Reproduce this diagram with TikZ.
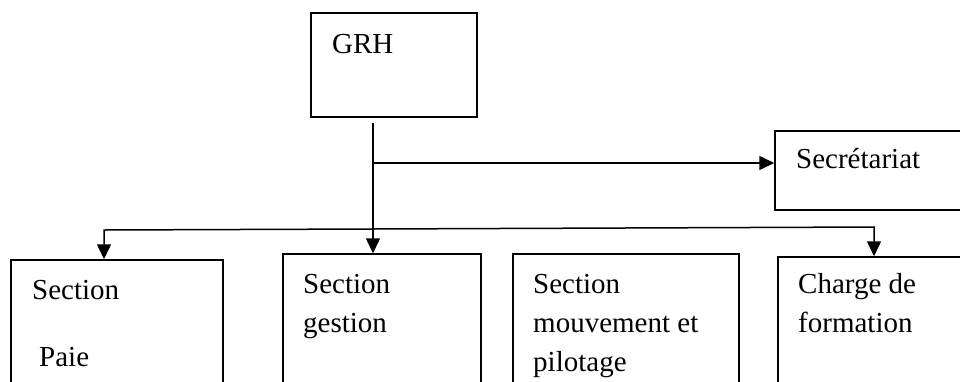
\documentclass[tikz,border=0pt]{standalone}
\usepackage{fontspec}
\setmainfont{Liberation Serif}
\usetikzlibrary{arrows.meta}
\begin{document}
\begin{tikzpicture}[x=1pt,y=-1pt,
  box/.style={draw=black,line width=1.5pt,rectangle,inner sep=0pt},
  lbl/.style={anchor=base west,inner sep=0pt,font=\fontsize{29}{39}\selectfont},
  conn/.style={draw=black,line width=1.5pt},
  arr/.style={conn,-{Triangle[length=15pt,width=14pt]}}]
\clip (0,0) rectangle (960,381);
\fill[white] (0,0) rectangle (960,381);
% boxes
\node[box,minimum width=166pt,minimum height=104pt] (grh) at (394,65) {};
\node[box,minimum width=240pt,minimum height=79pt] (sec) at (895,170.5) {};
\node[box,minimum width=212pt,minimum height=200pt] (paie) at (117,360) {};
\node[box,minimum width=198pt,minimum height=206pt] (gest) at (382,357) {};
\node[box,minimum width=226pt,minimum height=206pt] (mouv) at (626,357) {};
\node[box,minimum width=240pt,minimum height=203pt] (charge) at (898,358.5) {};
% texts
\node[lbl] (tgrh) at (332,53) {GRH};
\node[lbl] (tsec) at (796,168) {Secrétariat};
\node[lbl] (tpa1) at (32,299) {Section};
\node[lbl] (tpa2) at (39,366) {Paie};
\node[lbl] (tge1) at (303,293) {Section};
\node[lbl] (tge2) at (303,332) {gestion};
\node[lbl] (tmo1) at (533,293) {Section};
\node[lbl] (tmo2) at (533,332) {mouvement et};
\node[lbl] (tmo3) at (533,371) {pilotage};
\node[lbl] (tch1) at (798,293) {Charge de};
\node[lbl] (tch2) at (798,332) {formation};
% connectors
\coordinate (top) at (373,123);
\coordinate (j1) at (373,163);
\coordinate (bL) at (104,230);
\coordinate (bM) at (373,229);
\coordinate (bR) at (874,227);
\draw[arr] (top) -- (top |- gest.north);
\draw[arr] (j1) -- (j1 -| sec.west);
\draw[arr] (bM) -- (bL) -- (bL |- paie.north);
\draw[arr] (bM) -- (bR) -- (bR |- charge.north);
\end{tikzpicture}
\end{document}
